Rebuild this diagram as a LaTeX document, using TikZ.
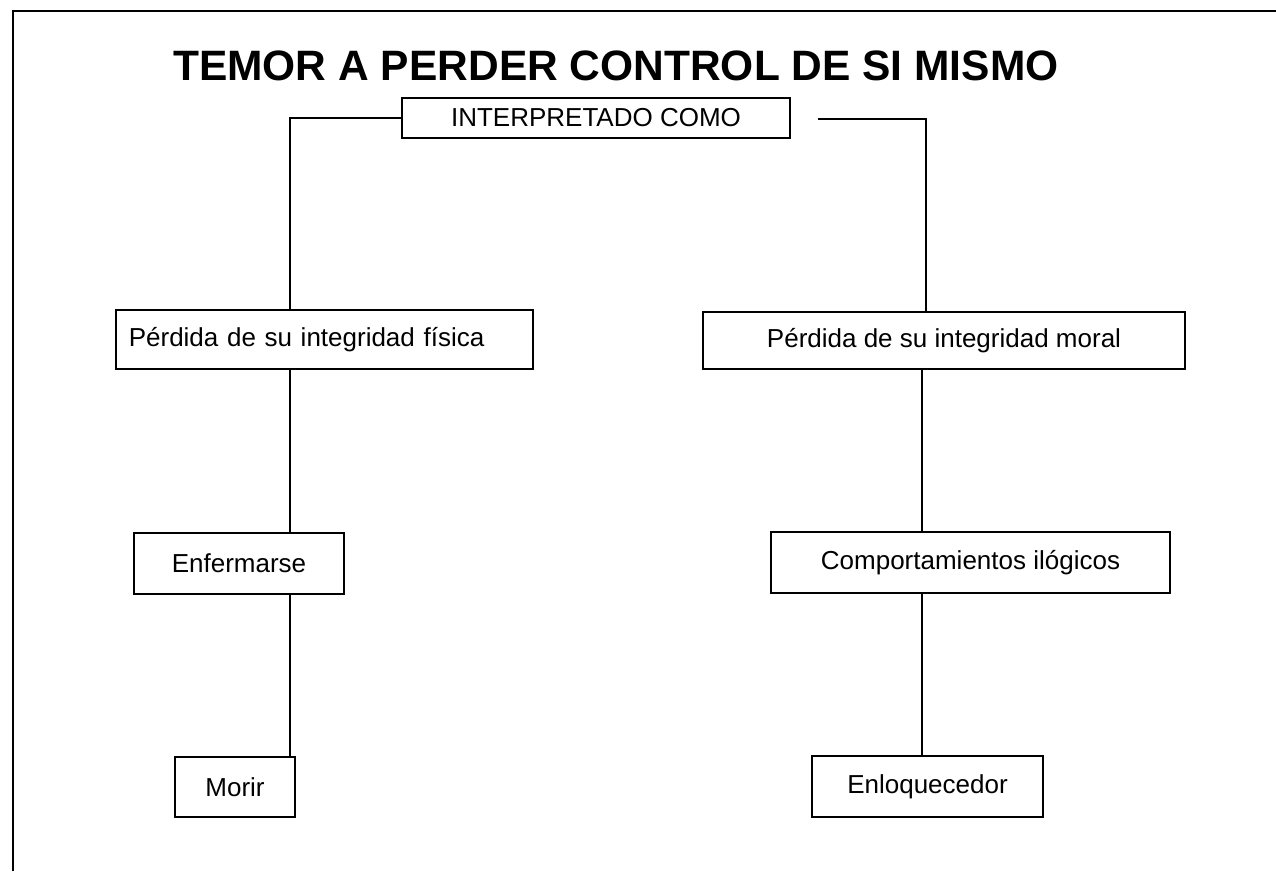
\documentclass[tikz,border=0pt]{standalone}
\usepackage{fontspec}
\setmainfont{Liberation Sans}
\begin{document}
\begin{tikzpicture}[x=1pt,y=-1pt,
  box/.style={draw=black,line width=1.6pt,inner sep=0pt,font=\fontsize{26}{30}\selectfont},
  conn/.style={draw=black,line width=1.6pt},
  frame/.style={draw=black,line width=1.8pt}]
\useasboundingbox (0,0) rectangle (1276,871);
% frame
\coordinate (ftl) at (13,11);
\coordinate (ftr) at (1276,11);
\coordinate (fbl) at (13,871);
\draw[frame] (fbl) -- (ftl) -- (ftr);
% title
\node[anchor=base west,inner sep=0pt,font=\fontsize{42.5}{50}\selectfont\bfseries] (title) at (173,80) {TEMOR A PERDER CONTROL DE SI MISMO};
% boxes
\node[box,minimum width=388pt,minimum height=40pt] (interp) at (596,118) {INTERPRETADO COMO};
\node[box,anchor=west,inner xsep=13pt,text width=391pt,align=left,minimum height=59pt] (fis) at (115,339.5) {Pérdida de su integridad física};
\node[box,minimum width=482pt,minimum height=57pt] (mor) at (944,340.5) {Pérdida de su integridad moral};
\node[box,minimum width=210pt,minimum height=61pt] (enf) at (239,563.5) {Enfermarse};
\node[box,minimum width=399pt,minimum height=61pt] (comp) at (970.5,562.5) {Comportamientos ilógicos};
\node[box,minimum width=120pt,minimum height=60pt] (morir) at (235,787) {Morir};
\node[box,minimum width=231pt,minimum height=61pt] (enlo) at (927.5,786.5) {Enloquecedor};
% connector guide coordinates
\coordinate (lx) at (290,0);
\coordinate (rx) at (926,0);
\coordinate (rx2) at (922,0);
\coordinate (rstart) at (818,119);
% connectors
\draw[conn] (interp.west) -| (lx |- fis.north);
\draw[conn] (rstart) -| (rx |- mor.north);
\draw[conn] (lx |- fis.south) -- (lx |- enf.north);
\draw[conn] (lx |- enf.south) -- (lx |- morir.north);
\draw[conn] (rx2 |- mor.south) -- (rx2 |- comp.north);
\draw[conn] (rx2 |- comp.south) -- (rx2 |- enlo.north);
\end{tikzpicture}
\end{document}
